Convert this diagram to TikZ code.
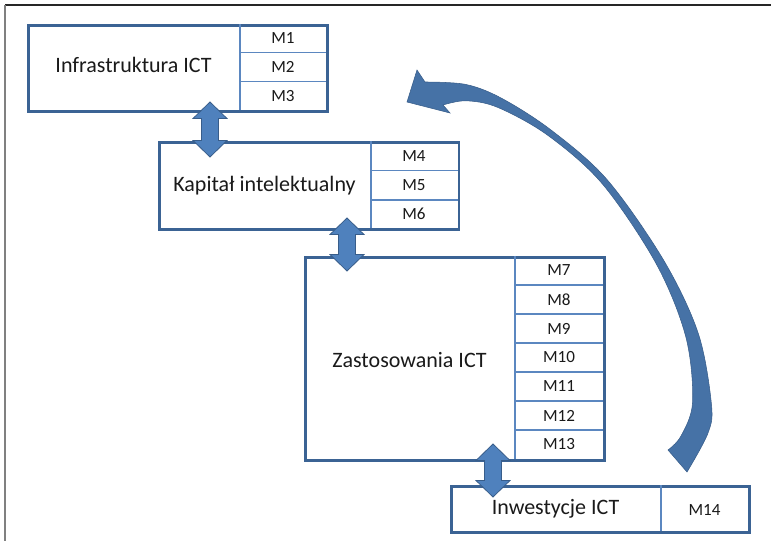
\documentclass[tikz,border=0pt]{standalone}
\usepackage{fontspec}
\setmainfont{Carlito}
\usetikzlibrary{calc}
\definecolor{boxline}{HTML}{3B6394}
\definecolor{cellline}{HTML}{5B87C0}
\definecolor{arrfill}{HTML}{4F81BD}
\definecolor{arrline}{HTML}{385D8A}
\definecolor{txt}{HTML}{1A1A1A}
\tikzset{
  boxstyle/.style={draw=boxline, line width=2pt, fill=white, anchor=north west, inner sep=0pt},
  cellsep/.style={draw=cellline, line width=0.8pt},
  mainlabel/.style={font=\fontsize{16.5}{18}\selectfont, text=txt, inner sep=0pt},
  mlabel/.style={font=\fontsize{12.8}{14}\selectfont, text=txt, inner sep=0pt},
  dblarrow/.style={fill=arrfill, draw=arrline, line width=0.6pt, line join=miter},
  curvarrow/.style={fill=arrfill!88!black, draw=arrline, line width=0.4pt, line join=miter},
}
\newcommand{\vdarrow}[2]{%
  \filldraw[dblarrow] (#1) -- ++(17,16.5) -- ++(-8.5,0) -- ($(#2)+(8.5,-16.5)$) -- ++(8.5,0)
    -- (#2) -- ++(-17,-16.5) -- ++(8.5,0) -- ($(#1)+(-8.5,16.5)$) -- ++(-8.5,0) -- cycle;}
\begin{document}
\begin{tikzpicture}[x=0.75pt, y=-0.75pt]
\useasboundingbox (0,0) rectangle (771,541);
% frame
\draw[draw=black!85, line width=1.2pt] (5,5) -- (771,5);
\draw[draw=black!50, line width=1.5pt] (5,5) -- (5,541);

% Box 1
\node[boxstyle, minimum width={299*0.75pt}, minimum height={86*0.75pt}] (b1) at (27,24) {};
\draw[cellsep] (240,24) -- (240,110);
\draw[cellsep] (240,52.7) -- (326,52.7);
\draw[cellsep] (240,81.3) -- (326,81.3);
\node[mainlabel] (t1) at (133.5,65) {Infrastruktura ICT};
\node[mlabel] (m1) at (283,38.3) {M1};
\node[mlabel] (m2) at (283,67) {M2};
\node[mlabel] (m3) at (283,95.7) {M3};

% Box 2
\node[boxstyle, minimum width={299.5*0.75pt}, minimum height={87*0.75pt}] (b2) at (158,141) {};
\draw[cellsep] (371,141) -- (371,228);
\draw[cellsep] (371,170.5) -- (457.5,170.5);
\draw[cellsep] (371,200) -- (457.5,200);
\node[mainlabel] (t2) at (264.5,185.5) {Kapitał intelektualny};
\node[mlabel] (m4) at (414,155.7) {M4};
\node[mlabel] (m5) at (414,185.3) {M5};
\node[mlabel] (m6) at (414,214) {M6};

% Box 3
\node[boxstyle, minimum width={299*0.75pt}, minimum height={203*0.75pt}] (b3) at (304,256) {};
\draw[cellsep] (515,256) -- (515,459);
\foreach \k in {1,...,6} {\draw[cellsep] (515,256+29*\k) -- (603,256+29*\k);}
\node[mainlabel] (t3) at (409.5,360.5) {Zastosowania ICT};
\foreach \k/\lab in {0/M7,1/M8,2/M9,3/M10,4/M11,5/M12,6/M13}
  {\node[mlabel] (m\lab) at (559,270.5+29*\k) {\lab};}

% Box 4
\node[boxstyle, minimum width={298*0.75pt}, minimum height={46*0.75pt}] (b4) at (450,485) {};
\draw[cellsep] (661,485) -- (661,531);
\node[mainlabel] (t4) at (555.5,508.5) {Inwestycje ICT};
\node[mlabel] (m14) at (704.5,510) {M14};

% double arrows
\coordinate (a1t) at (210,102); \coordinate (a1b) at (210,157);
\coordinate (a2t) at (347,218); \coordinate (a2b) at (347,271);
\coordinate (a3t) at (493,444); \coordinate (a3b) at (493,497);
\vdarrow{a1t}{a1b}
\vdarrow{a2t}{a2b}
\vdarrow{a3t}{a3b}

% curved arrow (from Inwestycje ICT back to Infrastruktura ICT)
\coordinate (ctail) at (687,472);
\coordinate (chead) at (407,102);
\filldraw[curvarrow] (ctail)
  -- plot[smooth, tension=0.55] coordinates {(687,472) (708,433) (711.4,404) (698.2,333.2) (663.5,260) (607.3,179.9) (551.8,130.6) (502,98.5) (466,84.5) (425,82)}
  -- (417,70) -- (chead) -- (450,113) -- (443,105)
  -- plot[smooth, tension=0.55] coordinates {(443,105) (466,100.8) (498,107.5) (548.2,135.6) (602.7,184.3) (656.5,264.3) (685.8,336.8) (692.6,402) (681,436) (668,450)}
  -- cycle;
\end{tikzpicture}
\end{document}
